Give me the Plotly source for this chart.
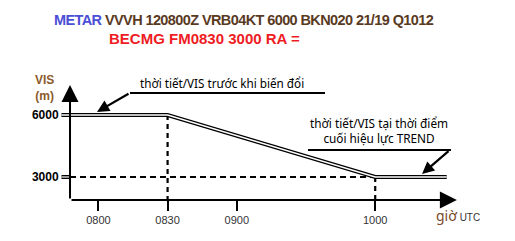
import plotly.graph_objects as go

W, H = 515, 241

# ---- data ----
tick_minutes = [0, 30, 60, 120]            # minutes after 0800 UTC
tick_labels = ["0800", "0830", "0900", "1000"]
vis_ticks = [3000, 6000]
vis_tick_labels = ["<b>3000</b>", "<b>6000</b>"]

trend_time = [-16, 30, 120, 151]           # VIS trend (minutes after 0800)
trend_vis = [6000, 6000, 3000, 3000]

ref3000_time = [-16, 120]                  # dashed reference at 3000 m
ref3000_vis = [3000, 3000]
start_time = [30, 30]                      # FM0830 marker
start_vis = [6000, 1887]
end_time = [120, 120]                      # end of TREND
end_vis = [3000, 1887]

# axis geometry (data units)
X_RANGE = [-42.65, 180.6]
Y_RANGE = [-97, 11565]
AXIS_X = -12.3     # y-axis location (minutes)
AXIS_Y = 1887      # x-axis location (VIS)
X_END = 155.4
Y_END = 7450


def px(x):
    return x / W


def py(y):
    return 1 - y / H


fig = go.Figure()

# dashed guides
fig.add_trace(go.Scatter(x=ref3000_time[:1] + [AXIS_X], y=ref3000_vis, mode="lines",
                         line=dict(color="black", width=4), hoverinfo="skip"))
fig.add_trace(go.Scatter(x=ref3000_time[:1] + [AXIS_X], y=ref3000_vis, mode="lines",
                         line=dict(color="white", width=1.2), hoverinfo="skip"))
fig.add_trace(go.Scatter(x=[AXIS_X, ref3000_time[1]], y=ref3000_vis, mode="lines",
                         line=dict(color="black", width=2, dash="6px,4px"), hoverinfo="skip"))
fig.add_trace(go.Scatter(x=start_time, y=start_vis, mode="lines",
                         line=dict(color="black", width=2.2, dash="5px,4px"), hoverinfo="skip"))
fig.add_trace(go.Scatter(x=end_time, y=end_vis, mode="lines",
                         line=dict(color="black", width=2.2, dash="5px,4px"), hoverinfo="skip"))

# double trend line
fig.add_trace(go.Scatter(x=trend_time, y=trend_vis, mode="lines",
                         line=dict(color="black", width=4.2), hoverinfo="skip"))
fig.add_trace(go.Scatter(x=trend_time, y=trend_vis, mode="lines",
                         line=dict(color="white", width=1.4), hoverinfo="skip"))

annotations = []
# axes arrows
annotations.append(dict(x=AXIS_X, y=Y_END, ax=AXIS_X, ay=AXIS_Y - 0, axref="x", ayref="y",
                        xref="x", yref="y", showarrow=True, arrowhead=2, arrowsize=1.7,
                        arrowwidth=2, arrowcolor="black", text=""))
annotations.append(dict(x=X_END, y=AXIS_Y, ax=AXIS_X, ay=AXIS_Y, axref="x", ayref="y",
                        xref="x", yref="y", showarrow=True, arrowhead=2, arrowsize=1.7,
                        arrowwidth=2, arrowcolor="black", text=""))

# title lines
annotations.append(dict(
    x=px(52), y=py(20), xref="paper", yref="paper", xanchor="left", yanchor="middle",
    showarrow=False,
    text="<b><span style='letter-spacing:-0.6px'><span style='color:#4b4fd6'>METAR</span>"
         " VVVH 120800Z VRB04KT 6000 BKN020 21/19 Q1012</span></b>",
    font=dict(family="Liberation Sans, Arial", size=14.5, color="#5a3a1f")))
annotations.append(dict(
    x=px(107), y=py(39), xref="paper", yref="paper", xanchor="left", yanchor="middle",
    showarrow=False, text="<b>BECMG FM0830 3000 RA =</b>",
    font=dict(family="Liberation Sans, Arial", size=15, color="#ee1c24")))

# y label
annotations.append(dict(
    x=px(44), y=py(88), xref="paper", yref="paper", xanchor="center", yanchor="middle",
    showarrow=False, text="<b>VIS<br>(m)</b>",
    font=dict(family="Liberation Sans, Arial", size=12, color="#8b5a2b")))

# x label
annotations.append(dict(
    x=px(434), y=py(215), xref="paper", yref="paper", xanchor="left", yanchor="middle",
    showarrow=False,
    text="giờ<span style='font-size:10px;color:#333;font-family:Liberation Sans'> UTC</span>",
    font=dict(family="Noto Sans, Open Sans", size=14, color="#7a4a2a")))

# callout 1
annotations.append(dict(
    x=px(222), y=py(83), xref="paper", yref="paper", xanchor="center", yanchor="middle",
    showarrow=False, text="thời tiết/VIS trước khi biến đổi",
    font=dict(family="Noto Sans, Open Sans", size=11.7, color="black")))
annotations.append(dict(x=-0.6, y=6150, xref="x", yref="y", ax=33, ay=-19,
                        showarrow=True, arrowhead=2, arrowsize=1.1, arrowwidth=2.2,
                        arrowcolor="black", text=""))
# callout 2
annotations.append(dict(
    x=px(379), y=py(130), xref="paper", yref="paper", xanchor="center", yanchor="middle",
    showarrow=False, text="thời tiết/VIS tại thời điểm<br>cuối hiệu lực TREND",
    font=dict(family="Noto Sans, Open Sans", size=11.8, color="black")))
annotations.append(dict(x=140.3, y=3150, xref="x", yref="y", ax=28, ay=-24,
                        showarrow=True, arrowhead=2, arrowsize=1.1, arrowwidth=2.2,
                        arrowcolor="black", text=""))

shapes = [
    dict(type="line", xref="paper", yref="paper", x0=px(130), x1=px(325), y0=py(93), y1=py(93),
         line=dict(color="black", width=2.2)),
    dict(type="line", xref="paper", yref="paper", x0=px(308), x1=px(451), y0=py(150), y1=py(150),
         line=dict(color="black", width=2.2)),
]

fig.update_layout(
    width=W, height=H, margin=dict(l=0, r=0, t=0, b=0),
    paper_bgcolor="white", plot_bgcolor="white", showlegend=False,
    annotations=annotations, shapes=shapes,
    xaxis=dict(range=X_RANGE, showgrid=False, zeroline=False, showline=False,
               tickvals=tick_minutes, ticktext=tick_labels, ticks="outside",
               ticklen=10, tickwidth=2, tickcolor="black",
               anchor="free", position=py(200),
               tickfont=dict(family="Liberation Sans, Arial", size=11, color="#333")),
    yaxis=dict(range=Y_RANGE, showgrid=False, zeroline=False, showline=False,
               tickvals=vis_ticks, ticktext=vis_tick_labels, ticks="outside",
               ticklen=9, tickcolor="rgba(0,0,0,0)",
               anchor="free", position=px(70),
               tickfont=dict(family="Liberation Sans, Arial", size=12, color="black")),
)

fig.write_html("out.html")
